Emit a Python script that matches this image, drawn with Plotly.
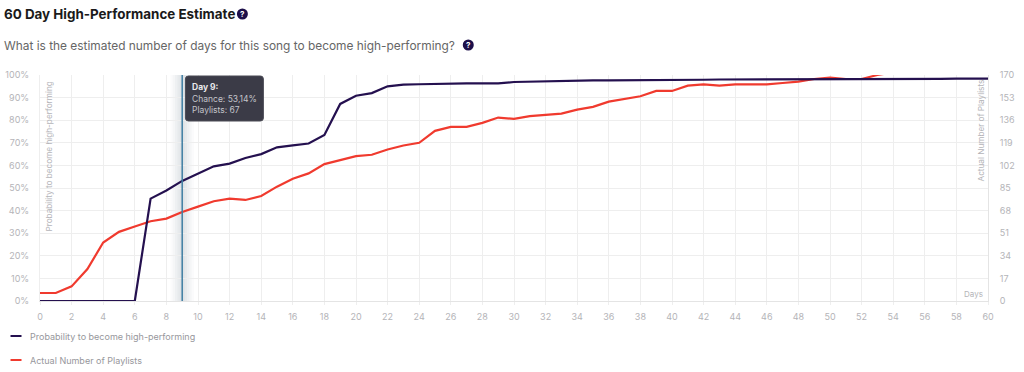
import plotly.graph_objects as go

days = list(range(61))
probability = [0, 0, 0, 0, 0, 0, 0, 45.3, 48.9, 53.14, 56.5, 59.6, 60.8, 63.3, 65, 68, 68.9, 69.7, 73.5, 87.2,
               90.8, 92, 95, 95.7, 95.9, 96.1, 96.2, 96.3, 96.3, 96.3, 96.9, 97.1, 97.2, 97.2, 97.4, 97.6,
               97.6, 97.6, 97.6, 97.7, 97.7, 97.8, 97.9, 98, 98, 98, 98, 98.1, 98.1, 98.2, 98.2, 98.2, 98.2,
               98.3, 98.3, 98.3, 98.3, 98.3, 98.4, 98.4, 98.4]
playlist_days = list(range(55))
playlists = [6, 6, 11, 24, 44, 52, 56, 60, 62, 67, 71, 75, 77, 76, 79, 86, 92, 96, 103, 106, 109, 110, 114, 117,
             119, 128, 131, 131, 134, 138, 137, 139, 140, 141, 144, 146, 150, 152, 154, 158, 158, 162, 163, 162,
             163, 163, 163, 164, 165, 167, 168, 167, 167, 170, 172]
pct_ticks = list(range(0, 101, 10))
pct_labels = [f"{v}%" for v in pct_ticks]
playlist_ticks = list(range(0, 171, 17))
selected_day = 9

FONT = "Inter"
DARK = "#24104f"
RED = "#f03a2e"
GREY = "#b4b4b8"
W, H = 1024, 372
L, R, T, B = 39.5, 36, 75, 71


def px(x):
    return (x - L) / (W - L - R)


def py(y):
    return 1 - (y - T) / (H - T - B)


fig = go.Figure()
fig.add_trace(go.Scatter(x=playlist_days, y=playlists, mode="lines", name="Actual Number of Playlists",
                         line=dict(color=RED, width=2.2), yaxis="y", hoverinfo="skip"))
fig.add_trace(go.Scatter(x=days, y=probability, mode="lines", name="Probability to become high-performing",
                         line=dict(color=DARK, width=2.2), yaxis="y2", hoverinfo="skip"))

shapes = []
for half, alpha in [(0.75, 0.025), (0.6, 0.03), (0.45, 0.035), (0.3, 0.04), (0.15, 0.05)]:
    shapes.append(dict(type="rect", xref="x", yref="paper", x0=selected_day - half, x1=selected_day + half,
                       y0=0, y1=1, fillcolor=f"rgba(70,90,110,{alpha})", line=dict(width=0), layer="below"))
shapes.append(dict(type="line", xref="x", yref="paper", x0=selected_day, x1=selected_day, y0=0, y1=1,
                   line=dict(color="#3f7ea3", width=1.5)))
bx0, bx1, by0, by1, rad = 185, 263, 76, 121, 3
box = (f"M {px(bx0 + rad)} {py(by0)} L {px(bx1 - rad)} {py(by0)} Q {px(bx1)} {py(by0)} {px(bx1)} {py(by0 + rad)} "
       f"L {px(bx1)} {py(by1 - rad)} Q {px(bx1)} {py(by1)} {px(bx1 - rad)} {py(by1)} "
       f"L {px(bx0 + rad)} {py(by1)} Q {px(bx0)} {py(by1)} {px(bx0)} {py(by1 - rad)} "
       f"L {px(bx0)} {py(by0 + rad)} Q {px(bx0)} {py(by0)} {px(bx0 + rad)} {py(by0)} Z")
shapes.append(dict(type="path", xref="paper", yref="paper", path=box, fillcolor="#3b3b47",
                   line=dict(color="#4a4a55", width=1)))
for cx, cy in [(242, 14), (468, 45)]:
    shapes.append(dict(type="circle", xref="paper", yref="paper", x0=px(cx - 5.5), x1=px(cx + 5.5),
                       y0=py(cy + 5.5), y1=py(cy - 5.5), fillcolor="#1d0f4a", line=dict(width=0)))
for ly, c in [(336, DARK), (360, RED)]:
    shapes.append(dict(type="line", xref="paper", yref="paper", x0=px(10), x1=px(21), y0=py(ly), y1=py(ly),
                       line=dict(color=c, width=2)))


def text(x, y, s, size, color, anchor="left", angle=0, yanchor="middle"):
    return dict(xref="paper", yref="paper", x=px(x), y=py(y), text=s, showarrow=False, xanchor=anchor,
                yanchor=yanchor, textangle=angle, font=dict(family=FONT, size=size, color=color))


ann = [
    text(1, 14, "<b>60 Day High-Performance Estimate</b>", 13.4, "#1a1a1a"),
    text(1, 46, "What is the estimated number of days for this song to become high-performing?", 11.9, "#666666"),
    text(242, 14, "<b>?</b>", 8, "#ffffff", "center"),
    text(468, 45, "<b>?</b>", 8, "#ffffff", "center"),
    text(190, 87, "<b>Day 9:</b>", 8.5, "#e8e8ea"),
    text(190, 98.5, "Chance: 53,14%", 8.5, "#c4c4ca"),
    text(190, 110, "Playlists: 67", 8.5, "#c4c4ca"),
    text(49, 156, "Probability to become high-performing", 8.2, GREY, "center", -90),
    text(980, 130.5, "Actual Number of Playlists", 8.2, GREY, "center", -90),
    text(985, 294, "Days", 8, GREY, "right"),
    text(27, 336, "Probability to become high-performing", 9, "#97979c"),
    text(27, 360, "Actual Number of Playlists", 9, "#97979c"),
]

fig.update_layout(
    width=W, height=H, autosize=False, showlegend=False,
    margin=dict(l=L, r=R, t=T, b=B, pad=0),
    paper_bgcolor="#ffffff", plot_bgcolor="#ffffff",
    font=dict(family=FONT, size=9, color=GREY),
    shapes=shapes, annotations=ann,
    xaxis=dict(range=[0, 60], dtick=2, tick0=0, showgrid=True, gridcolor="#eeeeee", gridwidth=1, zeroline=False,
               showline=True, linecolor="#e4e4e4", ticks="outside", ticklen=3, tickcolor="#eeeeee",
               ticklabelstandoff=4, automargin=False,
               tickfont=dict(family=FONT, size=9, color=GREY), fixedrange=True),
    yaxis=dict(range=[0, 170], tickvals=playlist_ticks, side="right", showgrid=True, gridcolor="#eeeeee", gridwidth=1,
               zeroline=False, showline=True, linecolor="#e4e4e4", ticks="", ticklabelstandoff=9, automargin=False,
               tickfont=dict(family=FONT, size=9, color=GREY), fixedrange=True),
    yaxis2=dict(range=[0, 100], tickvals=pct_ticks, ticktext=pct_labels, side="left", overlaying="y", showgrid=False,
                zeroline=False, showline=True, linecolor="#eeeeee", ticks="", ticklabelstandoff=8, automargin=False,
                tickfont=dict(family=FONT, size=9, color=GREY), fixedrange=True),
)

fig.write_html("out.html", config={"displayModeBar": False},
               post_script="document.body.style.margin='0';document.body.style.overflow='hidden';")
